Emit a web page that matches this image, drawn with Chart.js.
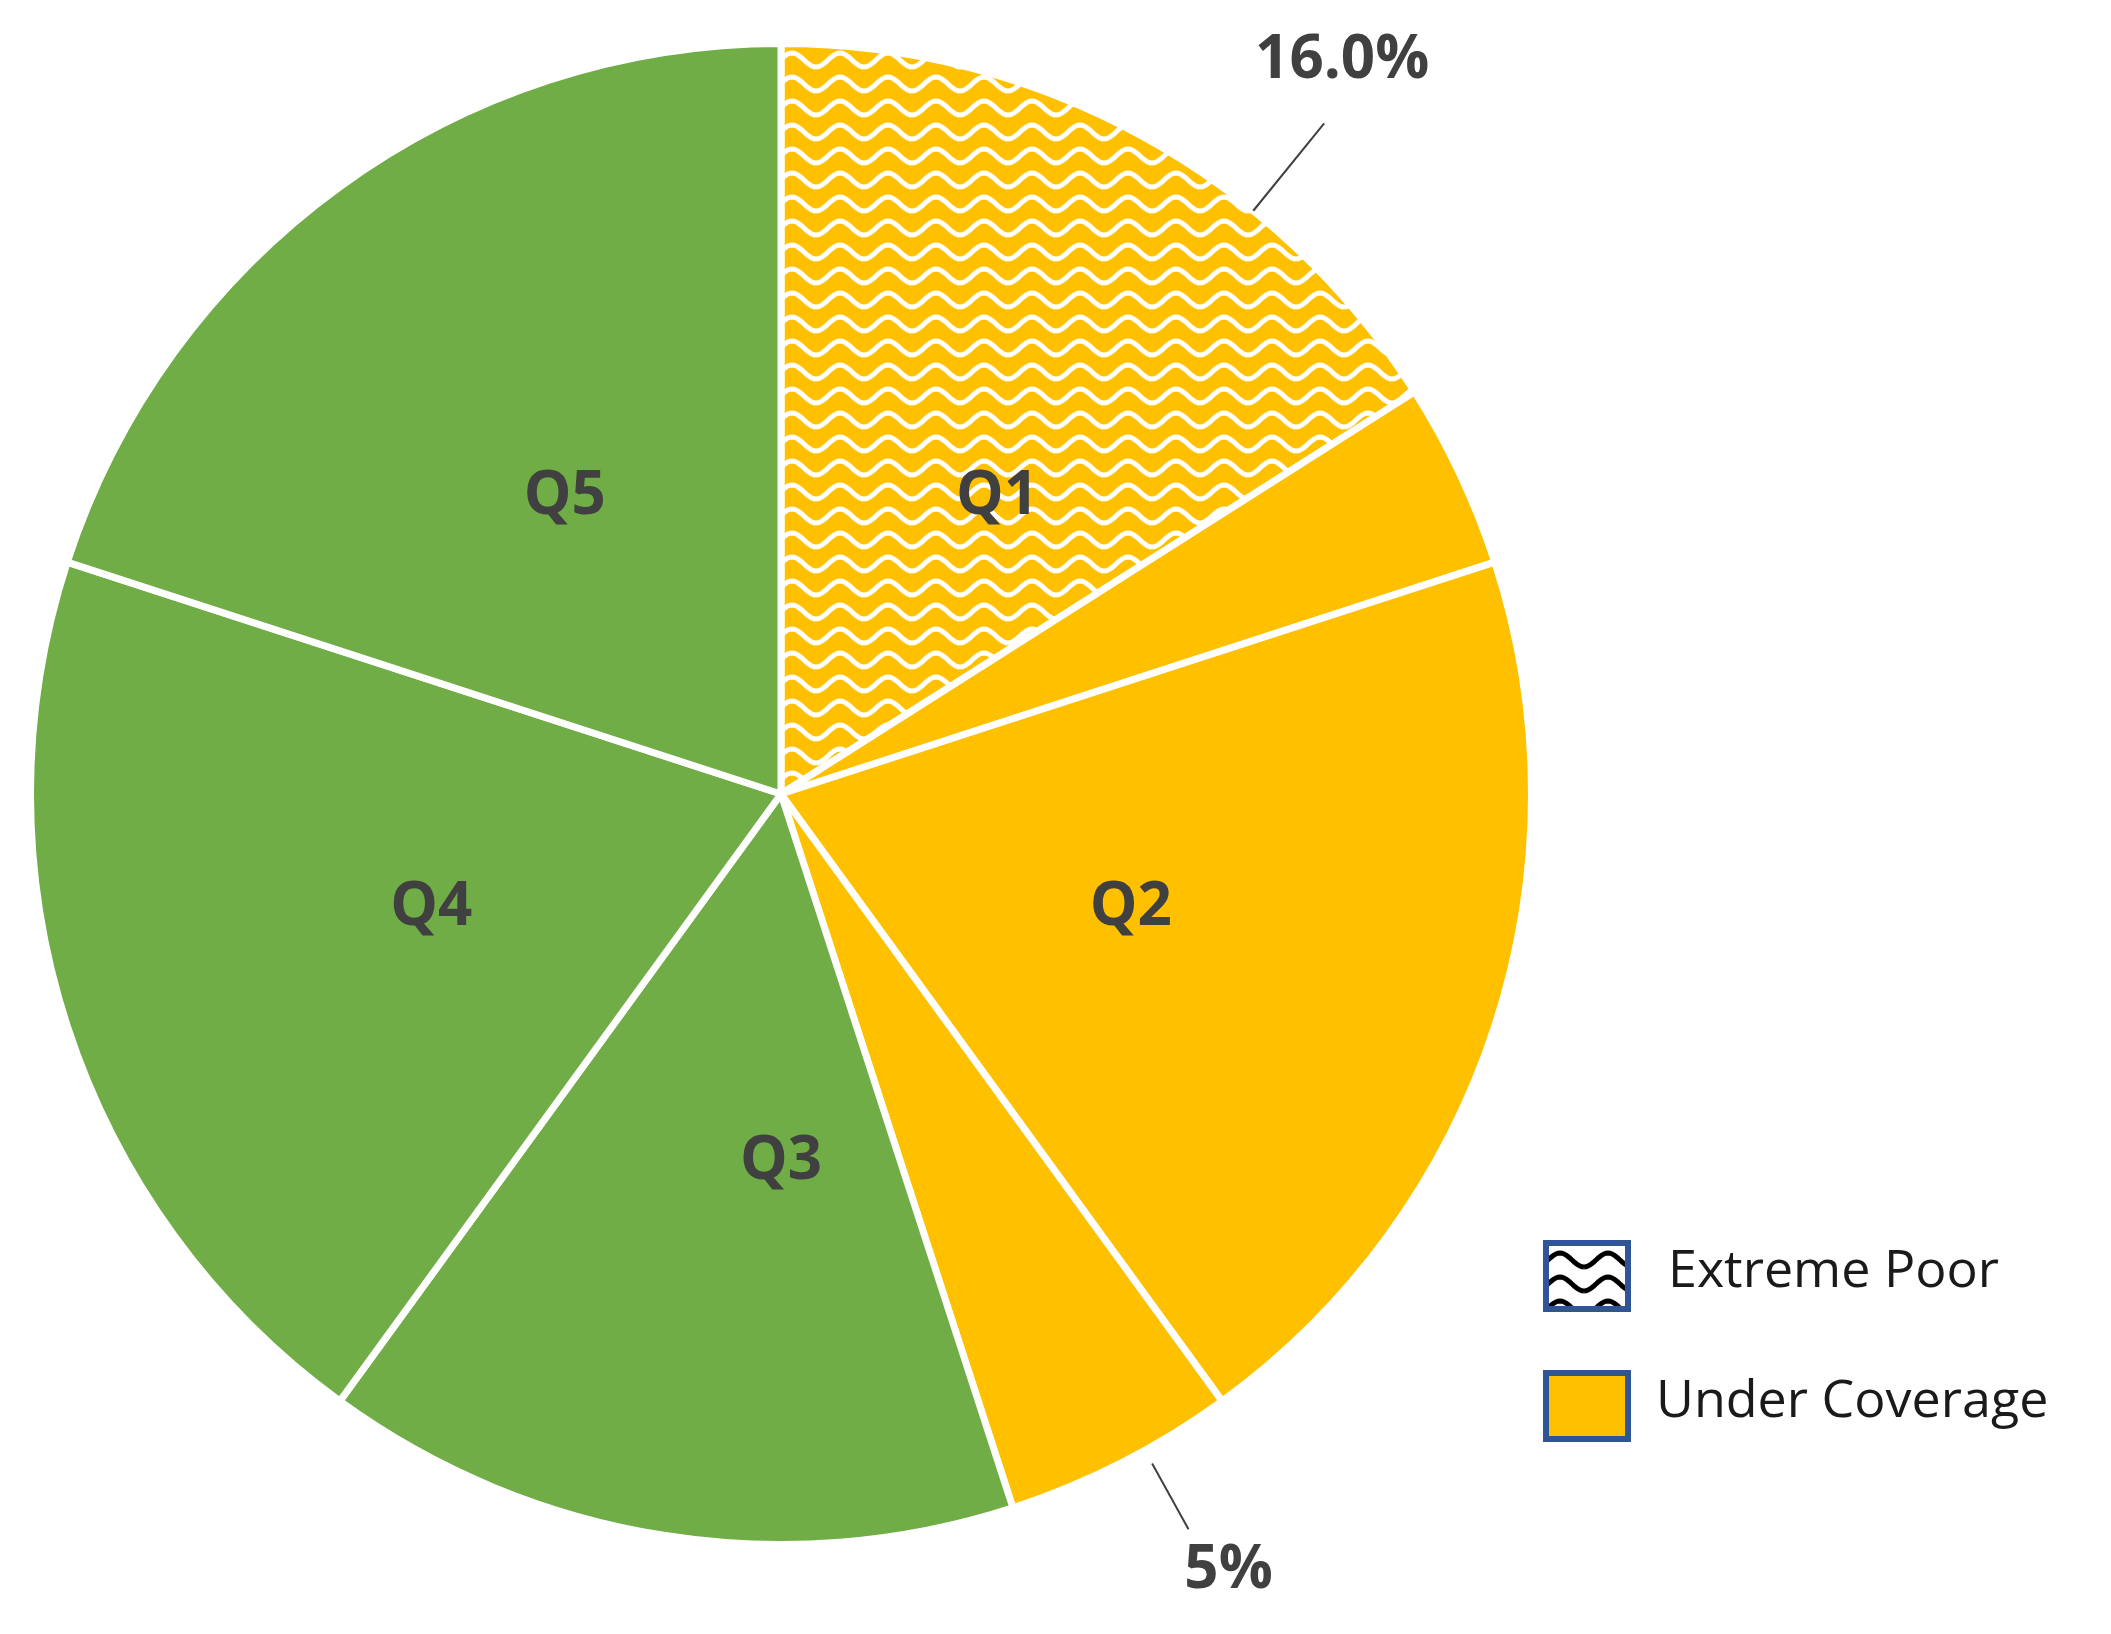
<!DOCTYPE html>
<html><head><meta charset="utf-8">
<script src="https://cdn.jsdelivr.net/npm/chart.js@4"></script>
<style>html,body{margin:0;padding:0;background:#fff}#wrap{width:2111px;height:1634px}</style>
</head><body><div id="wrap"><canvas id="pie"></canvas></div>
<script>
const sliceNames = ['Q1 extreme poor', 'Q1 rest', 'Q2', 'Q3 under coverage', 'Q3 rest', 'Q4', 'Q5'];
const sliceValues = [16, 4, 20, 5, 15, 20, 20];
const sliceKinds = ['pattern', 'yellow', 'yellow', 'yellow', 'green', 'green', 'green'];
const quintileLabels = ['Q1', 'Q2', 'Q3', 'Q4', 'Q5'];
const quintileSlices = [[0, 1], [2, 2], [3, 4], [5, 5], [6, 6]];
const calloutTexts = ['16.0%', '5%'];
const legendItems = [{ kind: 'pattern', text: 'Extreme Poor' }, { kind: 'yellow', text: 'Under Coverage' }];

const YELLOW = '#ffc000', GREEN = '#70ad47';

function wavePattern(bg, fg) {
  const c = document.createElement('canvas');
  c.width = 48; c.height = 24;
  const g = c.getContext('2d');
  g.fillStyle = bg; g.fillRect(0, 0, 48, 24);
  g.strokeStyle = fg; g.lineWidth = 5;
  for (let off = -24; off <= 48; off += 24) {
    g.beginPath();
    for (let x = 0; x <= 48; x += 2) {
      const y = off + 12 + 7 * Math.cos(x / 48 * 2 * Math.PI);
      x === 0 ? g.moveTo(x, y) : g.lineTo(x, y);
    }
    g.stroke();
  }
  return g.createPattern(c, 'repeat');
}

const ctx = document.getElementById('pie').getContext('2d');
const fillFor = k => k === 'pattern' ? wavePattern(YELLOW, '#fff') : k === 'yellow' ? YELLOW : GREEN;

// leader line placement: angle (deg from top), start/end radius fraction, text offset
const calloutLayout = [
  { deg: 39, r0: 1.0, r1: 1.15, dx: 18, dy: -62 },
  { deg: 151, r0: 1.02, r1: 1.12, dx: 40, dy: 42 }
];

const overlay = {
  id: 'overlay',
  afterDatasetsDraw(chart) {
    const c = chart.ctx;
    const arcs = chart.getDatasetMeta(0).data;
    const { x: cx, y: cy } = arcs[0].getProps(['x', 'y']);
    const R = arcs[0].outerRadius;
    c.save();
    c.textAlign = 'center'; c.textBaseline = 'middle';
    c.fillStyle = '#404040';
    c.font = 'bold 60px "Open Sans", "DejaVu Sans", sans-serif';
    quintileSlices.forEach(([a, b], i) => {
      const mid = (arcs[a].startAngle + arcs[b].endAngle) / 2;
      c.fillText(quintileLabels[i], cx + Math.cos(mid) * R * 0.49, cy + Math.sin(mid) * R * 0.49);
    });
    c.strokeStyle = '#404040'; c.lineWidth = 2;
    calloutTexts.forEach((t, i) => {
      const L = calloutLayout[i];
      const a = (L.deg - 90) * Math.PI / 180;
      const p1 = [cx + Math.cos(a) * R * L.r0, cy + Math.sin(a) * R * L.r0];
      const p2 = [cx + Math.cos(a) * R * L.r1, cy + Math.sin(a) * R * L.r1];
      c.beginPath(); c.moveTo(p1[0], p1[1]); c.lineTo(p2[0], p2[1]); c.stroke();
      c.fillText(t, p2[0] + L.dx, p2[1] + L.dy);
    });
    c.textAlign = 'left';
    c.font = '52px "Open Sans", sans-serif';
    legendItems.forEach((it, i) => {
      const y = 1240 + i * 130;
      c.fillStyle = it.kind === 'pattern' ? wavePattern('#fff', '#000') : YELLOW;
      c.fillRect(1546, y + 3, 82, 66);
      c.strokeStyle = '#2f5597'; c.lineWidth = 6;
      c.strokeRect(1546, y + 3, 82, 66);
      c.fillStyle = '#1a1a1a';
      c.fillText(it.text, 1668 - i * 12, y + 32);
    });
    c.restore();
  }
};

new Chart(ctx, {
  type: 'pie',
  data: {
    labels: sliceNames,
    datasets: [{
      data: sliceValues,
      backgroundColor: sliceKinds.map(fillFor),
      borderColor: '#fff',
      borderWidth: 7
    }]
  },
  options: {
    responsive: true,
    maintainAspectRatio: false,
    animation: false,
    layout: { padding: { left: 27, top: 40, right: 576, bottom: 86 } },
    plugins: { legend: { display: false }, tooltip: { enabled: false } }
  },
  plugins: [overlay]
});
</script></body></html>
